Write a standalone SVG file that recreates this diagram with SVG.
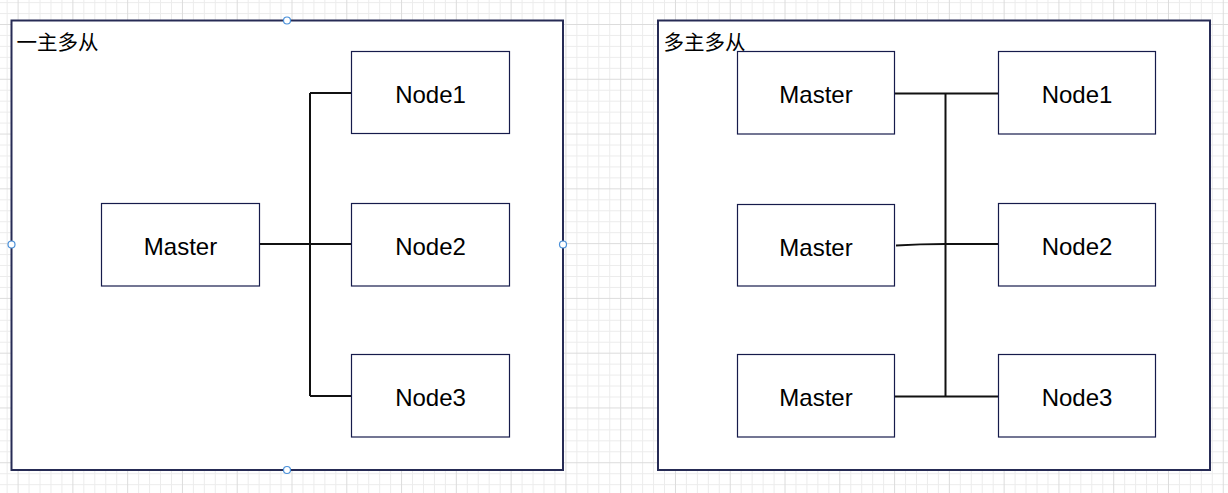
<svg xmlns="http://www.w3.org/2000/svg" width="1228" height="493" viewBox="0 0 1228 493">
  <style>
    .container { fill: #ffffff; stroke: #262b55; stroke-width: 2; }
    .node { fill: #ffffff; stroke: #161b4b; stroke-width: 1.2; }
    .label { font-family: "Liberation Sans", "Noto Sans CJK SC", sans-serif; font-size: 24px; fill: #000000; text-anchor: middle; }
    .title { font-family: "Noto Sans CJK SC", "Liberation Sans", sans-serif; font-size: 20.5px; fill: #000000; }
    .conn { fill: none; stroke: #111111; stroke-width: 2; }
    .handle { fill: #ffffff; stroke: #4a90d9; stroke-width: 1.2; }
  </style>
  <defs>
    <pattern id="grid" patternUnits="userSpaceOnUse" x="17.6" y="24" width="54.78" height="54.78">
      <path d="M11.456 0V54.78M22.412 0V54.78M33.368 0V54.78M44.324 0V54.78M0 11.456H54.78M0 22.412H54.78M0 33.368H54.78M0 44.324H54.78" stroke="#ececec" stroke-width="1" fill="none"/>
      <path d="M0.5 0V54.78M0 0.5H54.78" stroke="#dcdcdc" stroke-width="1" fill="none"/>
    </pattern>
  </defs>
  <rect x="0" y="0" width="1228" height="493" fill="#ffffff"/>
  <rect x="0" y="0" width="1228" height="493" fill="url(#grid)"/>

  <g id="container-left">
    <rect class="container" x="11.5" y="20.5" width="551.5" height="449.5"/>
    <text class="title" x="16.5" y="50">一主多从</text>
  </g>
  <g id="container-right">
    <rect class="container" x="658" y="20.5" width="552" height="449.5"/>
    <text class="title" x="663.5" y="50">多主多从</text>
  </g>

  <g id="connectors">
    <path class="conn" d="M259 244H310"/>
    <path class="conn" d="M310 93V396"/>
    <path class="conn" d="M310 93H351.5"/>
    <path class="conn" d="M310 244H351.5"/>
    <path class="conn" d="M310 396H351.5"/>
    <path class="conn" d="M894 93.5H998.5"/>
    <path class="conn" d="M945.5 93.5V396.5"/>
    <path class="conn" d="M896 245.5Q920 244 945.5 244H998.5"/>
    <path class="conn" d="M894 396.5H998.5"/>
  </g>

  <g id="left-master">
    <rect class="node" x="101.5" y="203.5" width="158" height="82.5"/>
    <text class="label" x="180.5" y="254.5">Master</text>
  </g>
  <g id="left-node1">
    <rect class="node" x="351.5" y="51.5" width="158" height="82"/>
    <text class="label" x="430.5" y="103">Node1</text>
  </g>
  <g id="left-node2">
    <rect class="node" x="351.5" y="203.5" width="158" height="82.5"/>
    <text class="label" x="430.5" y="254.5">Node2</text>
  </g>
  <g id="left-node3">
    <rect class="node" x="351.5" y="354.5" width="158" height="82.5"/>
    <text class="label" x="430.5" y="405.5">Node3</text>
  </g>

  <g id="right-master1">
    <rect class="node" x="737.5" y="51.5" width="157" height="82.5"/>
    <text class="label" x="816" y="103">Master</text>
  </g>
  <g id="right-master2">
    <rect class="node" x="737.5" y="204.5" width="157" height="81.5"/>
    <text class="label" x="816" y="255.5">Master</text>
  </g>
  <g id="right-master3">
    <rect class="node" x="737.5" y="354.5" width="157" height="82.5"/>
    <text class="label" x="816" y="405.5">Master</text>
  </g>
  <g id="right-node1">
    <rect class="node" x="998.5" y="51.5" width="157" height="82.5"/>
    <text class="label" x="1077" y="103">Node1</text>
  </g>
  <g id="right-node2">
    <rect class="node" x="998.5" y="203.5" width="157" height="82.5"/>
    <text class="label" x="1077" y="254.5">Node2</text>
  </g>
  <g id="right-node3">
    <rect class="node" x="998.5" y="354.5" width="157" height="82.5"/>
    <text class="label" x="1077" y="405.5">Node3</text>
  </g>

  <g id="selection-handles">
    <circle class="handle" cx="287" cy="20.5" r="3.5"/>
    <circle class="handle" cx="11.5" cy="244.5" r="3.5"/>
    <circle class="handle" cx="563" cy="244.5" r="3.5"/>
    <circle class="handle" cx="287" cy="470" r="3.5"/>
  </g>
</svg>
